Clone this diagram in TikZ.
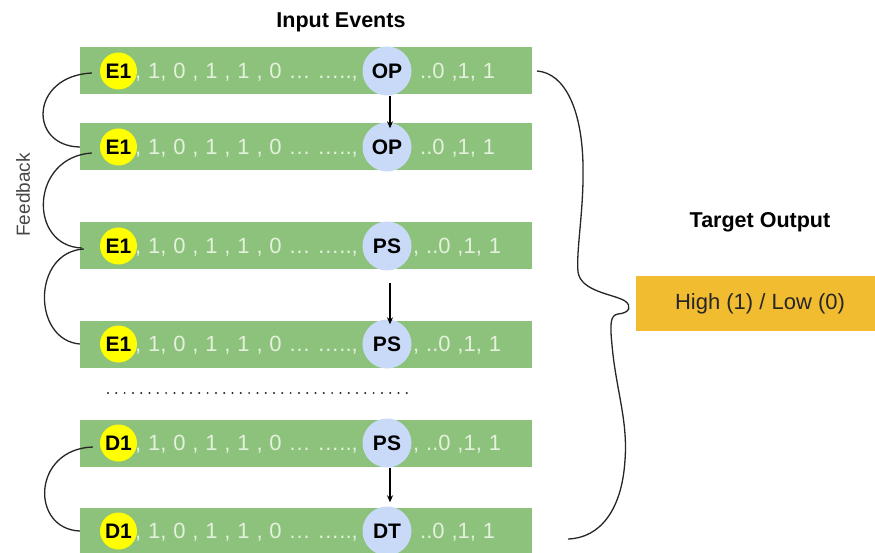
\documentclass[tikz,border=0pt]{standalone}
\usepackage{fontspec}
\setmainfont{Liberation Sans}
\newfontfamily\widefont[WordSpace=1.12]{Liberation Sans}
\usetikzlibrary{arrows.meta,calc}
\definecolor{barg}{HTML}{8CC27B}
\definecolor{wtx}{HTML}{E4F1DC}
\definecolor{ycol}{HTML}{FFFF00}
\definecolor{bcol}{HTML}{C9DAF8}
\definecolor{ocol}{HTML}{F1BC2F}
\definecolor{lcol}{HTML}{262626}
\tikzset{
  bar/.style={fill=barg, draw=none, minimum width=452pt, minimum height=47pt, inner sep=0pt},
  wtxt/.style={text=wtx, font=\widefont\fontsize{22}{26}\selectfont, inner sep=0pt, text height=15.5pt, text depth=0pt},
  ycirc/.style={circle, fill=ycol, draw=none, minimum size=37pt, inner sep=0pt, font=\bfseries\fontsize{21}{25}\selectfont},
  bcirc/.style={circle, fill=bcol, draw=none, minimum size=49pt, inner sep=0pt, font=\bfseries\fontsize{21}{25}\selectfont},
  fb/.style={draw=lcol, line width=1.3pt},
  arr/.style={draw=black, line width=1.2pt, -{Stealth[length=7pt,width=6pt]}},
  title/.style={font=\bfseries\fontsize{21.5}{26}\selectfont, text=black},
}
\newcommand\evrow[6]{%
  \node[bar] (r#1) at (306,#2) {};
  \node[wtxt, anchor=west] (tl#1) at (135,#2) {, 1, 0 , 1 , 1 , 0 … ….., };
  \node[wtxt, anchor=west] (tr#1) at (#6,#2) {#5};
  \node[ycirc] (y#1) at (118.5,#2) {#3};
  \node[bcirc] (b#1) at (387,#2) {#4};
}
\begin{document}
\begin{tikzpicture}[x=1pt,y=-1pt]
\useasboundingbox (0,0) rectangle (875,553);
\fill[white] (0,0) rectangle (875,553);

\node[title] (inev) at (341,22) {Input Events};

\evrow{1}{71}{E1}{OP}{..0 ,1, 1}{420}
\evrow{2}{147}{E1}{OP}{..0 ,1, 1}{420}
\evrow{3}{246}{E1}{PS}{, ..0 ,1, 1}{413}
\evrow{4}{344}{E1}{PS}{, ..0 ,1, 1}{413}
\evrow{5}{443}{D1}{PS}{, ..0 ,1, 1}{413}
\evrow{6}{531}{D1}{DT}{..0 ,1, 1}{420}

% dotted separator
\coordinate (ds) at (108,393);
\coordinate (de) at (414,393);
\draw[draw=lcol, line width=2.2pt, line cap=round, dash pattern=on 0pt off 8.3pt] (ds) -- (de);

% feedback label
\node[rotate=90, text=lcol!85!white, font=\fontsize{19}{23}\selectfont] (fbl) at (23,195) {Feedback};

% feedback arcs
\draw[fb] ($(y1.west)+(-8,2)$) .. controls (30,76) and (28,146) .. (r2.west);
\draw[fb] ($(y2.west)+(-8,6)$) .. controls (30,157) and (28,246) .. ($(r3.west)+(2,2)$);
\draw[fb] ($(r3.west)+(4,3)$) .. controls (32,252) and (32,340) .. (r4.west);
\draw[fb] ($(y5.west)+(-7,4)$) .. controls (32,449) and (30,529) .. (r6.west);

% vertical arrows
\draw[arr, shorten >=-6pt] ([xshift=3pt]b1.south) -- ([xshift=3pt]b2.north);
\draw[arr, shorten <=12pt, shorten >=-5pt] ([xshift=3pt]b3.south) -- ([xshift=3pt]b4.north);
\draw[arr, shorten >=4pt] ([xshift=3pt]b5.south) -- ([xshift=3pt]b6.north);

% brace
\coordinate (bs) at (537,71);
\coordinate (be) at (568,539);
\draw[draw=lcol, line width=1.3pt]
  (bs) .. controls (565,73) and (582,110) .. (583,165)
  .. controls (584,210) and (576,250) .. (578,272)
  .. controls (581,292) and (614,294) .. (625,301)
  .. controls (632,306) and (630,313) .. (618,314)
  .. controls (610,315) and (610,325) .. (612,345)
  .. controls (616,390) and (628,420) .. (625,460)
  .. controls (622,510) and (600,538) .. (be);

% target output
\node[title] (tout) at (760,222) {Target Output};
\node[fill=ocol, minimum width=248pt, minimum height=55pt, inner sep=0pt,
      text=lcol, font=\fontsize{22}{26}\selectfont] (hl) at (760,303.5) {High (1) / Low (0)};
\end{tikzpicture}
\end{document}
